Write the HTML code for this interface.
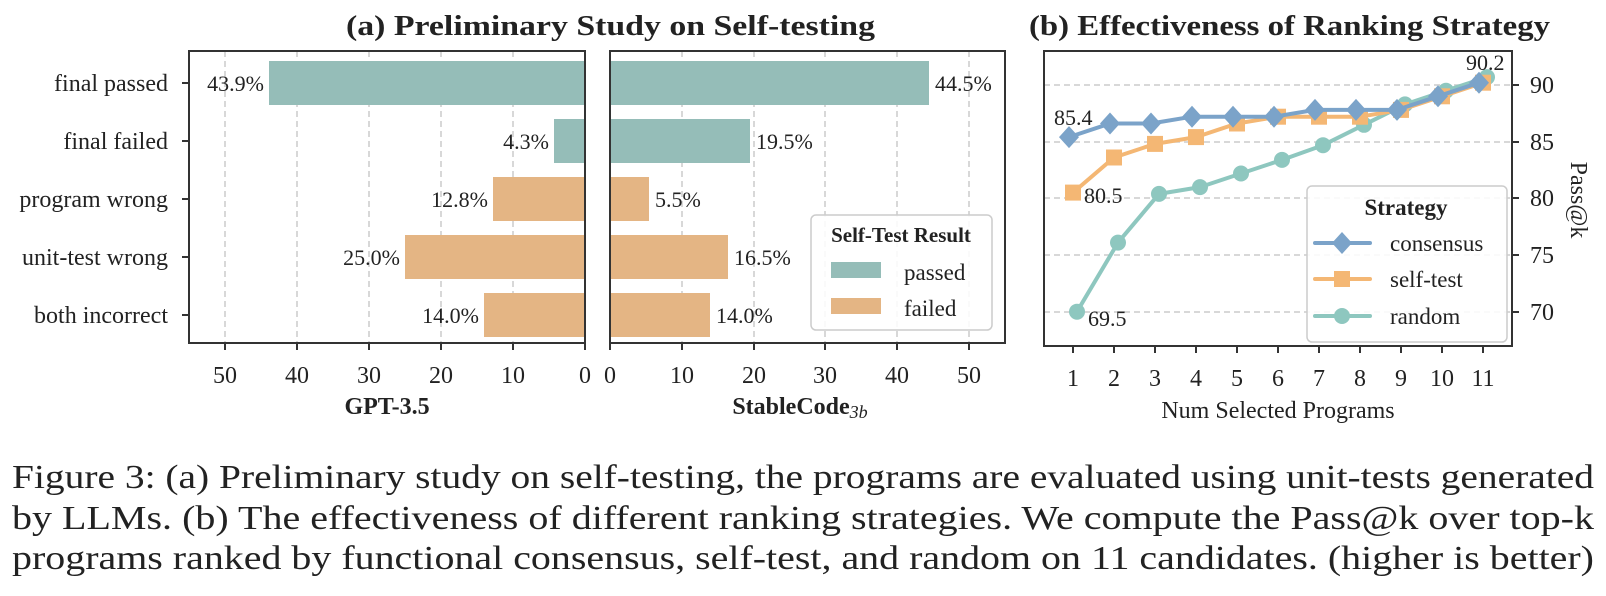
<!DOCTYPE html>
<html><head><meta charset="utf-8"><style>
html,body{margin:0;padding:0;background:#fff;}
svg{display:block;}
text{font-family:"Liberation Serif",serif;fill:#222;}
.b{font-weight:bold;}
</style></head><body>
<svg width="1606" height="596" viewBox="0 0 1606 596" xmlns="http://www.w3.org/2000/svg">
<text class="b" x="346" y="35" font-size="28" textLength="529" lengthAdjust="spacingAndGlyphs">(a) Preliminary Study on Self-testing</text>
<text class="b" x="1029" y="35" font-size="28" textLength="521" lengthAdjust="spacingAndGlyphs">(b) Effectiveness of Ranking Strategy</text>

<g stroke="#ccc" stroke-width="1.5" stroke-dasharray="6,4">
<line x1="225" y1="51" x2="225" y2="343"/><line x1="297" y1="51" x2="297" y2="343"/><line x1="369" y1="51" x2="369" y2="343"/><line x1="441" y1="51" x2="441" y2="343"/><line x1="513" y1="51" x2="513" y2="343"/>
<line x1="682" y1="51" x2="682" y2="343"/><line x1="754" y1="51" x2="754" y2="343"/><line x1="825" y1="51" x2="825" y2="343"/><line x1="897" y1="51" x2="897" y2="343"/><line x1="969" y1="51" x2="969" y2="343"/>
</g>
<rect x="269" y="61" width="316" height="44" fill="#95BDB8"/>
<rect x="554" y="119" width="31" height="44" fill="#95BDB8"/>
<rect x="493" y="177" width="92" height="44" fill="#E4B584"/>
<rect x="405" y="235" width="180" height="44" fill="#E4B584"/>
<rect x="484" y="293" width="101" height="44" fill="#E4B584"/>
<g font-size="22" text-anchor="end">
<text x="264" y="91">43.9%</text><text x="549" y="149">4.3%</text><text x="488" y="207">12.8%</text><text x="400" y="265">25.0%</text><text x="479" y="323">14.0%</text>
</g>
<rect x="610" y="61" width="319" height="44" fill="#95BDB8"/>
<rect x="610" y="119" width="140" height="44" fill="#95BDB8"/>
<rect x="610" y="177" width="39" height="44" fill="#E4B584"/>
<rect x="610" y="235" width="118" height="44" fill="#E4B584"/>
<rect x="610" y="293" width="100" height="44" fill="#E4B584"/>
<g font-size="22">
<text x="935" y="91">44.5%</text><text x="756" y="149">19.5%</text><text x="655" y="207">5.5%</text><text x="734" y="265">16.5%</text><text x="716" y="323">14.0%</text>
</g>
<rect x="189" y="51" width="396" height="292" fill="none" stroke="#333" stroke-width="2"/>
<rect x="610" y="51" width="395" height="292" fill="none" stroke="#333" stroke-width="2"/>
<g stroke="#333" stroke-width="2">
<line x1="182" y1="83" x2="189" y2="83"/><line x1="182" y1="141" x2="189" y2="141"/><line x1="182" y1="199" x2="189" y2="199"/><line x1="182" y1="257" x2="189" y2="257"/><line x1="182" y1="315" x2="189" y2="315"/>
<line x1="225" y1="343" x2="225" y2="350"/><line x1="297" y1="343" x2="297" y2="350"/><line x1="369" y1="343" x2="369" y2="350"/><line x1="441" y1="343" x2="441" y2="350"/><line x1="513" y1="343" x2="513" y2="350"/><line x1="585" y1="343" x2="585" y2="350"/>
<line x1="610" y1="343" x2="610" y2="350"/><line x1="682" y1="343" x2="682" y2="350"/><line x1="754" y1="343" x2="754" y2="350"/><line x1="825" y1="343" x2="825" y2="350"/><line x1="897" y1="343" x2="897" y2="350"/><line x1="969" y1="343" x2="969" y2="350"/>
</g>
<g font-size="24" text-anchor="end">
<text x="168" y="91">final passed</text><text x="168" y="149">final failed</text><text x="168" y="207">program wrong</text><text x="168" y="265">unit-test wrong</text><text x="168" y="323">both incorrect</text>
</g>
<g font-size="24" text-anchor="middle">
<text x="225" y="383">50</text><text x="297" y="383">40</text><text x="369" y="383">30</text><text x="441" y="383">20</text><text x="513" y="383">10</text><text x="585" y="383">0</text>
<text x="610" y="383">0</text><text x="682" y="383">10</text><text x="754" y="383">20</text><text x="825" y="383">30</text><text x="897" y="383">40</text><text x="969" y="383">50</text>
</g>
<text class="b" x="387" y="414" font-size="24" text-anchor="middle">GPT-3.5</text>
<text class="b" x="800" y="414" font-size="24" text-anchor="middle">StableCode<tspan font-weight="normal" font-style="italic" font-size="18" dy="4">3b</tspan></text>
<rect x="811" y="215" width="181" height="115" rx="5" fill="#fff" fill-opacity="0.85" stroke="#ccc" stroke-width="1.5"/>
<text class="b" x="901" y="242" font-size="21" text-anchor="middle">Self-Test Result</text>
<rect x="831" y="262" width="50" height="16" fill="#95BDB8"/>
<text x="904" y="280" font-size="23">passed</text>
<rect x="831" y="298" width="50" height="16" fill="#E4B584"/>
<text x="904" y="316" font-size="23">failed</text>

<g stroke="#ccc" stroke-width="1.5" stroke-dasharray="6,4">
<line x1="1044" y1="85" x2="1512" y2="85"/><line x1="1044" y1="142" x2="1512" y2="142"/><line x1="1044" y1="198" x2="1512" y2="198"/><line x1="1044" y1="255" x2="1512" y2="255"/><line x1="1044" y1="312" x2="1512" y2="312"/>
</g>
<polyline fill="none" stroke="#8EC7BF" stroke-width="4" stroke-linejoin="round" points="1077,311.7 1118,242.6 1159,193.9 1200,187.1 1241,173.5 1282,159.9 1323,145.2 1364,124.8 1405,104.4 1446,90.7 1487,77.1"/>
<g fill="#8EC7BF">
<circle cx="1077" cy="311.7" r="8"/><circle cx="1118" cy="242.6" r="8"/><circle cx="1159" cy="193.9" r="8"/><circle cx="1200" cy="187.1" r="8"/><circle cx="1241" cy="173.5" r="8"/><circle cx="1282" cy="159.9" r="8"/><circle cx="1323" cy="145.2" r="8"/><circle cx="1364" cy="124.8" r="8"/><circle cx="1405" cy="104.4" r="8"/><circle cx="1446" cy="90.7" r="8"/><circle cx="1487" cy="77.1" r="8"/>
</g>
<polyline fill="none" stroke="#F4B774" stroke-width="4" stroke-linejoin="round" points="1073,192.6 1114,157.5 1155,143.9 1196,137.1 1237,123.5 1278,116.7 1319,116.7 1360,116.7 1401,109.9 1442,96.3 1483,82.7"/>
<g fill="#F4B774">
<rect x="1065" y="184.6" width="16" height="16"/><rect x="1106" y="149.5" width="16" height="16"/><rect x="1147" y="135.9" width="16" height="16"/><rect x="1188" y="129.1" width="16" height="16"/><rect x="1229" y="115.5" width="16" height="16"/><rect x="1270" y="108.7" width="16" height="16"/><rect x="1311" y="108.7" width="16" height="16"/><rect x="1352" y="108.7" width="16" height="16"/><rect x="1393" y="101.9" width="16" height="16"/><rect x="1434" y="88.3" width="16" height="16"/><rect x="1475" y="74.7" width="16" height="16"/>
</g>
<polyline fill="none" stroke="#7BA3C9" stroke-width="4" stroke-linejoin="round" points="1069,137.1 1110,123.5 1151,123.5 1192,116.7 1233,116.7 1274,116.7 1315,109.9 1356,109.9 1397,109.9 1438,96.3 1479,82.7"/>
<g fill="#7BA3C9">
<path d="M1069,126.1 l10,11 l-10,11 l-10,-11z"/><path d="M1110,112.5 l10,11 l-10,11 l-10,-11z"/><path d="M1151,112.5 l10,11 l-10,11 l-10,-11z"/><path d="M1192,105.7 l10,11 l-10,11 l-10,-11z"/><path d="M1233,105.7 l10,11 l-10,11 l-10,-11z"/><path d="M1274,105.7 l10,11 l-10,11 l-10,-11z"/><path d="M1315,98.9 l10,11 l-10,11 l-10,-11z"/><path d="M1356,98.9 l10,11 l-10,11 l-10,-11z"/><path d="M1397,98.9 l10,11 l-10,11 l-10,-11z"/><path d="M1438,85.3 l10,11 l-10,11 l-10,-11z"/><path d="M1479,71.7 l10,11 l-10,11 l-10,-11z"/>
</g>
<g font-size="22">
<text x="1054" y="125">85.4</text><text x="1084" y="203">80.5</text><text x="1088" y="326">69.5</text><text x="1466" y="70">90.2</text>
</g>
<rect x="1044" y="51" width="468" height="295" fill="none" stroke="#333" stroke-width="2"/>
<g stroke="#333" stroke-width="2">
<line x1="1073" y1="346" x2="1073" y2="353"/><line x1="1114" y1="346" x2="1114" y2="353"/><line x1="1155" y1="346" x2="1155" y2="353"/><line x1="1196" y1="346" x2="1196" y2="353"/><line x1="1237" y1="346" x2="1237" y2="353"/><line x1="1278" y1="346" x2="1278" y2="353"/><line x1="1319" y1="346" x2="1319" y2="353"/><line x1="1360" y1="346" x2="1360" y2="353"/><line x1="1401" y1="346" x2="1401" y2="353"/><line x1="1442" y1="346" x2="1442" y2="353"/><line x1="1483" y1="346" x2="1483" y2="353"/>
<line x1="1512" y1="85" x2="1519" y2="85"/><line x1="1512" y1="142" x2="1519" y2="142"/><line x1="1512" y1="198" x2="1519" y2="198"/><line x1="1512" y1="255" x2="1519" y2="255"/><line x1="1512" y1="312" x2="1519" y2="312"/>
</g>
<g font-size="24" text-anchor="middle">
<text x="1073" y="386">1</text><text x="1114" y="386">2</text><text x="1155" y="386">3</text><text x="1196" y="386">4</text><text x="1237" y="386">5</text><text x="1278" y="386">6</text><text x="1319" y="386">7</text><text x="1360" y="386">8</text><text x="1401" y="386">9</text><text x="1442" y="386">10</text><text x="1483" y="386">11</text>
</g>
<g font-size="24">
<text x="1530" y="93">90</text><text x="1530" y="150">85</text><text x="1530" y="206">80</text><text x="1530" y="263">75</text><text x="1530" y="320">70</text>
</g>
<text x="1278" y="418" font-size="24" text-anchor="middle">Num Selected Programs</text>
<text x="0" y="0" font-size="24" text-anchor="middle" transform="translate(1571,200) rotate(90)">Pass@k</text>
<rect x="1307" y="186" width="200" height="156" rx="5" fill="#fff" fill-opacity="0.85" stroke="#ccc" stroke-width="1.5"/>
<text class="b" x="1406" y="215" font-size="23" text-anchor="middle">Strategy</text>
<line x1="1315" y1="243" x2="1370" y2="243" stroke="#7BA3C9" stroke-width="4" stroke-linecap="round"/>
<path d="M1342,232 l10,11 l-10,11 l-10,-11z" fill="#7BA3C9"/>
<text x="1390" y="251" font-size="23">consensus</text>
<line x1="1315" y1="279" x2="1370" y2="279" stroke="#F4B774" stroke-width="4" stroke-linecap="round"/>
<rect x="1334" y="271" width="16" height="16" fill="#F4B774"/>
<text x="1390" y="287" font-size="23">self-test</text>
<line x1="1315" y1="316" x2="1370" y2="316" stroke="#8EC7BF" stroke-width="4" stroke-linecap="round"/>
<circle cx="1342" cy="316" r="8" fill="#8EC7BF"/>
<text x="1390" y="324" font-size="23">random</text>

<g font-size="34" fill="#000">
<text x="12" y="488" textLength="1582" lengthAdjust="spacingAndGlyphs">Figure 3: (a) Preliminary study on self-testing, the programs are evaluated using unit-tests generated</text>
<text x="12" y="529" textLength="1582" lengthAdjust="spacingAndGlyphs">by LLMs. (b) The effectiveness of different ranking strategies. We compute the Pass@k over top-k</text>
<text x="12" y="569" textLength="1582" lengthAdjust="spacingAndGlyphs">programs ranked by functional consensus, self-test, and random on 11 candidates. (higher is better)</text>
</g>
</svg>
</body></html>
